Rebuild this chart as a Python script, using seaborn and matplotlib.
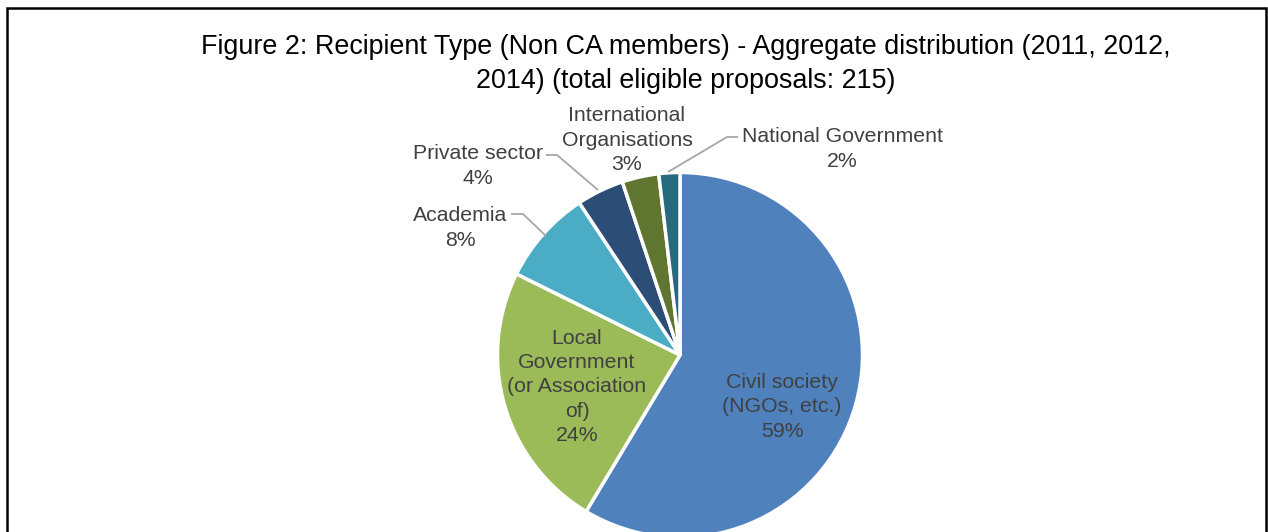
import matplotlib
matplotlib.use("Agg")
import matplotlib.pyplot as plt
import seaborn as sns
from matplotlib.patches import Rectangle

sns.set_theme(style="white")
plt.rcParams['font.family'] = ['Liberation Sans', 'DejaVu Sans']

title = "Figure 2: Recipient Type (Non CA members) - Aggregate distribution (2011, 2012,\n2014) (total eligible proposals: 215)"
categories = ["Civil society\n(NGOs, etc.)", "Local\nGovernment\n(or Association\nof)", "Academia",
              "Private sector", "International\nOrganisations", "National Government"]
# estimated proposal counts (total 215)
counts = [126, 51, 18, 9, 7, 4]
colors = sns.color_palette(["#4F81BD", "#9BBB59", "#4BACC6", "#2C4D75", "#5F7530", "#276A7D"])

W, H = 1268, 532
fig = plt.figure(figsize=(W / 100, H / 100), dpi=100)
ax = fig.add_axes([0, 0, 1, 1])

cx, cy, r = 680, H - 355, 182.5
wedges, _ = ax.pie(counts, colors=colors, startangle=90, counterclock=False,
                   center=(cx, cy), radius=r,
                   wedgeprops=dict(edgecolor="white", linewidth=2.5))
ax.set_xlim(0, W)
ax.set_ylim(0, H)
ax.set_aspect("equal")
ax.axis("off")

total = sum(counts)
# label positions (image pixel coords, y from top)
label_pos = [(782, 407), (577, 387), (460, 228), (478, 166), (627, 140), (842, 149)]
tc = "#404040"
for cat, v, (lx, ly) in zip(categories, counts, label_pos):
    pct = round(100 * v / total)
    ax.text(lx, H - ly, f"{cat}\n{pct}%", ha="center", va="center", fontsize=15.3,
            color=tc, linespacing=1.36)

# leader lines
lc = "#A6A6A6"
leaders = [
    [(511, 214), (523, 214), (546, 236)],
    [(546, 155), (557, 155), (598, 190)],
    [(738, 137), (727, 137), (668, 172)],
]
for pts in leaders:
    xs = [p[0] for p in pts]
    ys = [H - p[1] for p in pts]
    ax.plot(xs, ys, color=lc, lw=1.3, solid_capstyle="butt")

ax.text(686, H - 63.5, title, ha="center", va="center", fontsize=19.4,
        color="black", linespacing=1.4)

fig.patches.append(Rectangle((7 / W, -0.1), (1266 - 7) / W, (H - 8) / H + 0.1,
                             transform=fig.transFigure, fill=False,
                             edgecolor="black", linewidth=1.8))

fig.savefig("out.png", dpi=100)
